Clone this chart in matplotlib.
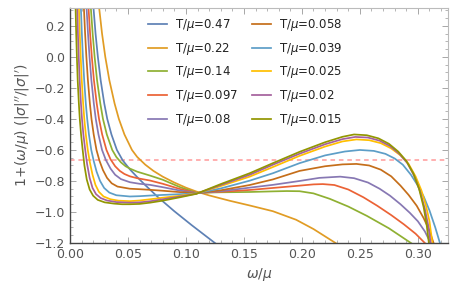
import numpy as np
import matplotlib.pyplot as plt
from matplotlib.ticker import MultipleLocator

# T/mu values and Mathematica-style colours
temps = ['0.47', '0.22', '0.14', '0.097', '0.08', '0.058', '0.039', '0.025', '0.02', '0.015']
colors = ['#5E81B5', '#E19C24', '#8FB032', '#EB6235', '#8778B3',
          '#C56E1A', '#5D9EC7', '#FFBF00', '#A5609D', '#929600']

# curves (omega/mu, 1+(omega/mu)|sigma|''/|sigma|')
x_047 = [0.0190, 0.0204, 0.0221, 0.0241, 0.0265, 0.0296, 0.0322, 0.0358, 0.0405, 0.0455, 0.0517,
         0.058, 0.065, 0.076, 0.09, 0.105, 0.125, 0.13]
y_047 = [0.45, 0.31, 0.15, 0.0, -0.15, -0.30, -0.40, -0.50, -0.60, -0.667, -0.725,
         -0.775, -0.827, -0.905, -0.995, -1.085, -1.2, -1.228]

x_022 = [0.0234, 0.0253, 0.0277, 0.0305, 0.034, 0.0385, 0.0422, 0.047, 0.0535, 0.058, 0.065, 0.072,
         0.08, 0.09, 0.1, 0.109, 0.12, 0.138, 0.155, 0.175, 0.195, 0.21, 0.229, 0.235]
y_022 = [0.45, 0.31, 0.15, 0.0, -0.15, -0.30, -0.40, -0.50, -0.60, -0.645, -0.695, -0.735,
         -0.772, -0.81, -0.843, -0.868, -0.893, -0.928, -0.958, -0.995, -1.05, -1.11, -1.2, -1.23]

x_014 = [0.0170, 0.0181, 0.0196, 0.0213, 0.0234, 0.0262, 0.0285, 0.0318, 0.0365, 0.040, 0.044, 0.048,
         0.0517, 0.058, 0.069, 0.08, 0.095, 0.109, 0.13, 0.155, 0.175, 0.187, 0.198, 0.21, 0.224,
         0.24, 0.256, 0.275, 0.294, 0.298]
y_014 = [0.45, 0.31, 0.15, 0.0, -0.15, -0.30, -0.40, -0.50, -0.60, -0.645, -0.68, -0.705,
         -0.72, -0.74, -0.765, -0.792, -0.84, -0.876, -0.873, -0.871, -0.867, -0.865, -0.866, -0.88, -0.915,
         -0.965, -1.025, -1.105, -1.2, -1.22]

x_0097 = [0.0151, 0.0161, 0.0174, 0.0189, 0.0207, 0.0231, 0.0251, 0.0278, 0.0315, 0.035, 0.039, 0.043,
          0.047, 0.0517, 0.058, 0.069, 0.08, 0.095, 0.109, 0.13, 0.155, 0.175, 0.198, 0.21, 0.218,
          0.228, 0.24, 0.253, 0.265, 0.277, 0.288, 0.298, 0.306, 0.31]
y_0097 = [0.45, 0.31, 0.15, 0.0, -0.15, -0.30, -0.40, -0.50, -0.60, -0.66, -0.705, -0.735,
          -0.755, -0.77, -0.782, -0.797, -0.818, -0.852, -0.877, -0.87, -0.858, -0.845, -0.83, -0.822, -0.82,
          -0.826, -0.855, -0.905, -0.96, -1.02, -1.08, -1.14, -1.2, -1.23]

x_008 = [0.0135, 0.0144, 0.0156, 0.0169, 0.0185, 0.0206, 0.0223, 0.0246, 0.0277, 0.031, 0.035, 0.039,
         0.044, 0.0517, 0.06, 0.069, 0.08, 0.095, 0.109, 0.13, 0.155, 0.175, 0.198, 0.215, 0.233,
         0.245, 0.257, 0.267, 0.276, 0.285, 0.293, 0.3, 0.306, 0.311, 0.314]
y_008 = [0.45, 0.31, 0.15, 0.0, -0.15, -0.30, -0.40, -0.50, -0.60, -0.665, -0.72, -0.76,
         -0.788, -0.808, -0.818, -0.825, -0.84, -0.862, -0.878, -0.866, -0.843, -0.825, -0.80, -0.78, -0.772,
         -0.782, -0.81, -0.85, -0.895, -0.95, -1.005, -1.06, -1.125, -1.2, -1.25]

x_0058 = [0.0113, 0.0121, 0.0131, 0.0142, 0.0155, 0.0172, 0.0186, 0.0205, 0.0229, 0.0255, 0.0285, 0.032,
          0.036, 0.041, 0.0517, 0.06, 0.069, 0.08, 0.095, 0.109, 0.13, 0.155, 0.175, 0.198, 0.22,
          0.235, 0.247, 0.258, 0.268, 0.277, 0.285, 0.292, 0.299, 0.305, 0.31, 0.3135, 0.316]
y_0058 = [0.45, 0.31, 0.15, 0.0, -0.15, -0.30, -0.40, -0.50, -0.60, -0.67, -0.73, -0.78,
          -0.815, -0.836, -0.85, -0.853, -0.857, -0.863, -0.872, -0.879, -0.86, -0.826, -0.79, -0.735, -0.705,
          -0.693, -0.69, -0.70, -0.727, -0.77, -0.83, -0.89, -0.96, -1.04, -1.12, -1.2, -1.25]

x_0039 = [0.0088, 0.0095, 0.0103, 0.0112, 0.0123, 0.0137, 0.0149, 0.0164, 0.0184, 0.0205, 0.023, 0.026,
          0.0295, 0.034, 0.04, 0.0517, 0.06, 0.069, 0.08, 0.095, 0.109, 0.13, 0.155, 0.175, 0.198,
          0.22, 0.237, 0.25, 0.262, 0.272, 0.28, 0.287, 0.294, 0.3, 0.305, 0.31, 0.315, 0.319, 0.321]
y_0039 = [0.45, 0.31, 0.15, 0.0, -0.15, -0.30, -0.40, -0.50, -0.60, -0.67, -0.74, -0.80,
          -0.845, -0.875, -0.892, -0.90, -0.898, -0.894, -0.89, -0.885, -0.88, -0.848, -0.798, -0.75, -0.685,
          -0.635, -0.61, -0.60, -0.606, -0.625, -0.655, -0.695, -0.76, -0.83, -0.90, -0.99, -1.1, -1.2, -1.25]

x_0025 = [0.0072, 0.0078, 0.0085, 0.0093, 0.0102, 0.0114, 0.0124, 0.0137, 0.0154, 0.0172, 0.0195, 0.022,
          0.025, 0.029, 0.035, 0.042, 0.0517, 0.06, 0.069, 0.08, 0.095, 0.109, 0.13, 0.155, 0.175,
          0.198, 0.22, 0.235, 0.247, 0.258, 0.268, 0.277, 0.285, 0.292, 0.298, 0.303, 0.307, 0.31,
          0.3125, 0.3135]
y_0025 = [0.45, 0.31, 0.15, 0.0, -0.15, -0.30, -0.40, -0.50, -0.60, -0.68, -0.76, -0.825,
          -0.87, -0.90, -0.918, -0.927, -0.93, -0.926, -0.918, -0.908, -0.895, -0.881, -0.833, -0.772, -0.71,
          -0.638, -0.578, -0.545, -0.532, -0.537, -0.556, -0.59, -0.635, -0.69, -0.77, -0.86, -0.96, -1.06,
          -1.2, -1.26]

x_002 = [0.0058, 0.0063, 0.0069, 0.0076, 0.0084, 0.0095, 0.0104, 0.0116, 0.0132, 0.0148, 0.017, 0.0195,
         0.0225, 0.0265, 0.032, 0.04, 0.0517, 0.06, 0.069, 0.08, 0.095, 0.109, 0.13, 0.155, 0.175,
         0.198, 0.22, 0.235, 0.246, 0.257, 0.267, 0.276, 0.284, 0.291, 0.297, 0.302, 0.306, 0.309,
         0.311, 0.312]
y_002 = [0.45, 0.31, 0.15, 0.0, -0.15, -0.30, -0.40, -0.50, -0.60, -0.69, -0.78, -0.845,
         -0.885, -0.91, -0.926, -0.936, -0.94, -0.938, -0.931, -0.918, -0.90, -0.882, -0.826, -0.76, -0.695,
         -0.624, -0.563, -0.53, -0.516, -0.52, -0.54, -0.575, -0.625, -0.685, -0.77, -0.87, -0.98, -1.09,
         -1.2, -1.26]

x_0015 = [0.0045, 0.0049, 0.0054, 0.0060, 0.0067, 0.0077, 0.0085, 0.0096, 0.0110, 0.0125, 0.0145, 0.017,
          0.020, 0.024, 0.030, 0.038, 0.045, 0.0517, 0.06, 0.069, 0.08, 0.095, 0.109, 0.13, 0.155,
          0.175, 0.198, 0.22, 0.235, 0.245, 0.256, 0.266, 0.275, 0.283, 0.29, 0.296, 0.301, 0.305,
          0.3075, 0.3095, 0.3105]
y_0015 = [0.45, 0.31, 0.15, 0.0, -0.15, -0.30, -0.40, -0.50, -0.60, -0.70, -0.79, -0.855,
          -0.895, -0.922, -0.938, -0.946, -0.95, -0.95, -0.948, -0.94, -0.927, -0.905, -0.883, -0.82, -0.75,
          -0.685, -0.612, -0.55, -0.515, -0.50, -0.505, -0.525, -0.56, -0.61, -0.67, -0.75, -0.85, -0.97,
          -1.08, -1.2, -1.26]

xs = [x_047, x_022, x_014, x_0097, x_008, x_0058, x_0039, x_0025, x_002, x_0015]
ys = [y_047, y_022, y_014, y_0097, y_008, y_0058, y_0039, y_0025, y_002, y_0015]
ref_level = -2 / 3

fig = plt.figure(figsize=(4.6, 3.0), dpi=100)
ax = fig.add_axes([0.152, 0.19, 0.822, 0.783])

ax.axhline(ref_level, color='#FF9A9A', lw=1.1, ls=(0, (3, 2.5)), zorder=1)
for x, y, c, t in zip(xs, ys, colors, temps):
    ax.plot(x, y, color=c, lw=1.25, label=r'T/$\mu$=' + t, solid_joinstyle='round')

ax.set_xlim(0, 0.326)
ax.set_ylim(-1.2, 0.315)
ax.xaxis.set_major_locator(MultipleLocator(0.05))
ax.xaxis.set_minor_locator(MultipleLocator(0.01))
ax.yaxis.set_major_locator(MultipleLocator(0.2))
ax.yaxis.set_minor_locator(MultipleLocator(0.05))
ax.xaxis.set_major_formatter(plt.FuncFormatter(lambda v, p: f'{v:.2f}'))
ax.yaxis.set_major_formatter(plt.FuncFormatter(lambda v, p: f'{v:.1f}'.replace('-', '\u2212')))

ax.tick_params(which='both', direction='in', top=True, right=True, colors='#999999',
               labelcolor='#555555', labelsize=9)
ax.tick_params(which='major', length=4, width=0.6)
ax.tick_params(which='minor', length=2, width=0.5)
for side in ['left', 'bottom']:
    ax.spines[side].set_color('#444444')
    ax.spines[side].set_linewidth(1.0)
for side in ['top', 'right']:
    ax.spines[side].set_color('#BBBBBB')
    ax.spines[side].set_linewidth(0.8)

ax.set_xlabel(r'$\omega/\mu$', color='#555555', fontsize=10, labelpad=4)
ax.set_ylabel(r"$1\!+\!(\omega/\mu)\ (|\sigma|''/|\sigma|')$", color='#555555', fontsize=10, labelpad=2)

leg = ax.legend(ncol=2, loc='upper left', bbox_to_anchor=(0.206, 0.962), frameon=False, fontsize=8.5,
                handlelength=1.6, handletextpad=0.7, columnspacing=1.2, labelspacing=0.65,
                borderaxespad=0.0, borderpad=0.0)
for txt in leg.get_texts():
    txt.set_color('#222222')

fig.savefig('out.png', dpi=100)
